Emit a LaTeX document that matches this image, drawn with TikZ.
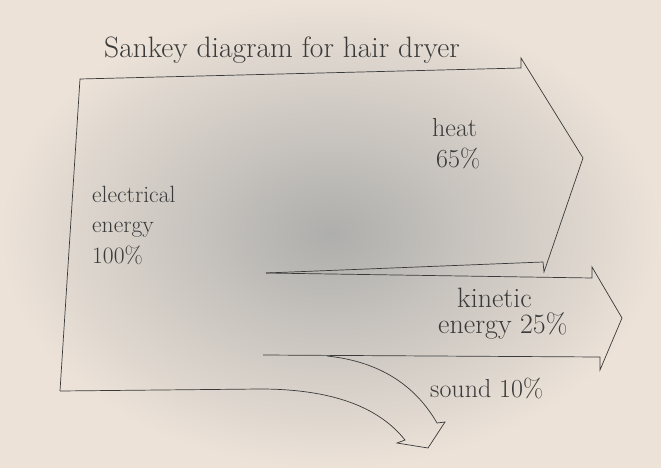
\documentclass[tikz,border=0pt]{standalone}
\usepackage{tikz}
\definecolor{pencil}{HTML}{3A3A3A}
\definecolor{paperlight}{HTML}{ECE2D8}
\definecolor{paperdark}{HTML}{AEAEAC}

\begin{document}
\begin{tikzpicture}[x=1pt, y=-1pt,
  outline/.style={draw=pencil, line width=0.7pt, line join=miter},
  hand/.style={text=pencil, inner sep=0pt, align=left, font=\fontsize{26}{30}\selectfont}]
\useasboundingbox (0,0) rectangle (661,468);
\shade[inner color=paperdark, outer color=paperlight] (0,0) rectangle (661,468);

% outline of the flows
\coordinate (split1) at (266,273);
\coordinate (split2) at (263,355);
\draw[outline] (60,391) -- (80,79) -- (521,68) -- (521,58) -- (583,158)
  -- (544,272) -- (543,262) -- (split1);
\draw[outline] (split1) -- (592,278) -- (592,267) -- (622,318)
  -- (600,370) -- (600,357) -- (split2);
\draw[outline] (327,356) .. controls (385,362) and (418,390) .. (437,423)
  -- (445,422) -- (428,448) -- (397,443) -- (405,440)
  .. controls (378,406) and (330,389) .. (260,389) -- (60,391);

% labels
\node[hand, anchor=base west, font=\fontsize{29.5}{30}\selectfont] (title) at (104,58)
  {Sankey diagram for hair dryer};
\node[hand, anchor=base west, font=\fontsize{23.5}{30.5}\selectfont] (electrical) at (92,263)
  {electrical\\ energy\\ 100\%};
\node[hand, anchor=base west] (heat) at (432,167) {heat\\ \hspace*{4pt}65\%};
\node[hand, anchor=base west, font=\fontsize{28}{26}\selectfont] (kinetic) at (438,333)
  {\hspace*{19pt}kinetic\\ energy 25\%};
\node[hand, anchor=base west] (sound) at (430,397) {sound 10\%};
\end{tikzpicture}
\end{document}
